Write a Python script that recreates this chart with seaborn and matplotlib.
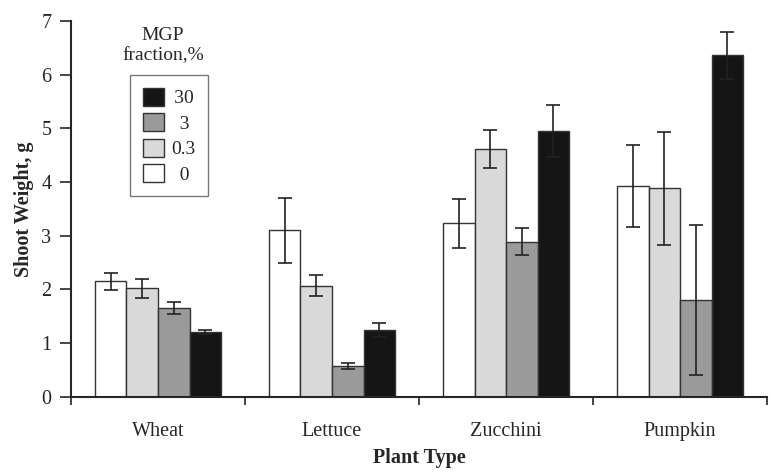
import pandas as pd
import numpy as np
import matplotlib
matplotlib.use('Agg')
import matplotlib.pyplot as plt
import seaborn as sns

# valores
plantas = ['Wheat', 'Lettuce', 'Zucchini', 'Pumpkin']
fracoes = ['0', '0.3', '3', '30']
peso_0 = [2.15, 3.10, 3.23, 3.92]
peso_03 = [2.02, 2.07, 4.61, 3.88]
peso_3 = [1.66, 0.57, 2.89, 1.80]
peso_30 = [1.21, 1.24, 4.95, 6.36]
erro_0 = [0.16, 0.60, 0.45, 0.76]
erro_03 = [0.18, 0.19, 0.35, 1.05]
erro_3 = [0.11, 0.06, 0.25, 1.40]
erro_30 = [0.04, 0.13, 0.49, 0.44]

pesos = [peso_0, peso_03, peso_3, peso_30]
erros = [erro_0, erro_03, erro_3, erro_30]

data = pd.DataFrame({
    'Planta': plantas * 4,
    'Fracao': np.repeat(fracoes, 4),
    'Peso': sum(pesos, []),
})

cores = ['#ffffff', '#d9d9d9', '#9a9a9a', '#151515']

sns.set_style('ticks')
plt.rcParams['font.family'] = ['Liberation Serif', 'DejaVu Serif']

fig = plt.figure(figsize=(7.71, 4.73), dpi=100)
ax = fig.add_axes([0.092, 0.161, 0.903, 0.795])

sns.barplot(data=data, x='Planta', y='Peso', hue='Fracao', order=plantas,
            hue_order=fracoes, palette=cores, width=0.725, gap=0,
            edgecolor='#333333', linewidth=1.0, errorbar=None, ax=ax,
            legend=True)

# barras de erro
for cont, err in zip(ax.containers, erros):
    xs = [p.get_x() + p.get_width() / 2 for p in cont]
    hs = [p.get_height() for p in cont]
    ax.errorbar(xs, hs, yerr=err, fmt='none', ecolor='#222222',
                elinewidth=1.2, capsize=5, capthick=1.2)

ax.set_xlim(-0.5, 3.5)
ax.set_ylim(0, 7)
ax.set_yticks(range(8))
ax.set_xticks([-0.5, 0.5, 1.5, 2.5, 3.5], minor=False)
ax.set_xticklabels([])
ax.set_xticks(range(4), minor=True)
ax.set_xticklabels(plantas, minor=True)
ax.tick_params(axis='x', which='minor', length=0, pad=18, labelsize=14.5)
ax.tick_params(axis='x', which='major', length=6, width=1.2, direction='out')
ax.tick_params(axis='y', length=8, width=1.2, direction='out', labelsize=14.5, pad=6)
sns.despine(ax=ax)
for s in ['left', 'bottom']:
    ax.spines[s].set_linewidth(1.5)

ax.set_xlabel('Plant Type', fontsize=14.5, fontweight='bold', labelpad=5)
ax.set_ylabel('Shoot Weight, g', fontsize=14.5, fontweight='bold', labelpad=5)

# legenda em ordem inversa, título fora da caixa
handles, labels = ax.get_legend_handles_labels()
pads = {'30': '\u200a\u200a', '3': '\u2008\u2009', '0.3': '', '0': '\u2008\u2009'}
labels = [pads[l] + l for l in labels]
leg = ax.legend(handles[::-1], labels[::-1], loc='upper left',
                bbox_to_anchor=(0.0848, 0.856), frameon=True, fancybox=False,
                edgecolor='#555555', fontsize=14, handlelength=1.1,
                handleheight=1.05, handletextpad=0.35, labelspacing=0.3,
                borderpad=0.65, borderaxespad=0)
leg.get_frame().set_linewidth(1.0)
ax.text(0.132, 0.935, 'MGP\nfraction,%', transform=ax.transAxes,
        ha='center', va='center', fontsize=14, linespacing=1.25)

fig.savefig('out.png', dpi=100)
